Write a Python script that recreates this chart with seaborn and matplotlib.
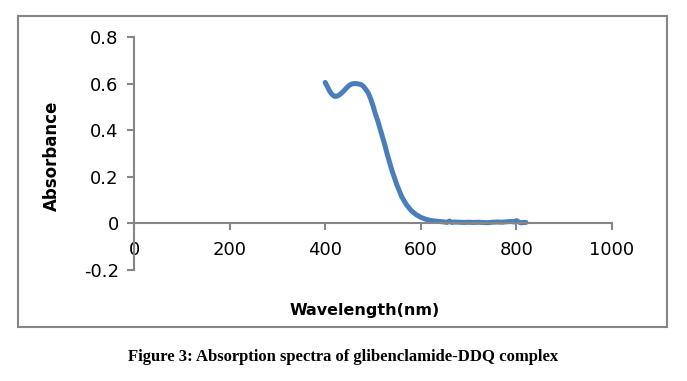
import matplotlib
matplotlib.use("Agg")
import matplotlib.pyplot as plt
import matplotlib.patches as mpatches
import pandas as pd
import seaborn as sns

# Spectrum
wavelength = [400, 405, 410, 415, 420, 425, 430, 435, 440, 445, 450, 455, 460, 465, 470,
              475, 480, 485, 490, 495, 500, 505, 510, 515, 520, 525, 530, 540, 550, 560,
              570, 580, 590, 600, 610, 620, 630, 640, 650, 655, 660, 665, 670, 680, 690,
              700, 710, 720, 730, 740, 750, 760, 770, 780, 790, 795, 800, 805, 810, 815, 820]
absorbance = [0.605, 0.585, 0.565, 0.552, 0.545, 0.546, 0.552, 0.561, 0.571, 0.582, 0.592,
              0.598, 0.600, 0.600, 0.598, 0.596, 0.588, 0.575, 0.560, 0.535, 0.505, 0.470,
              0.440, 0.405, 0.370, 0.335, 0.295, 0.225, 0.165, 0.115, 0.080, 0.055, 0.038,
              0.026, 0.018, 0.013, 0.010, 0.008, 0.006, 0.004, 0.010, 0.004, 0.006, 0.005,
              0.004, 0.005, 0.004, 0.005, 0.004, 0.003, 0.005, 0.006, 0.005, 0.007, 0.008,
              0.006, 0.012, 0.006, 0.002, 0.004, 0.004]
x_ticks = [0, 200, 400, 600, 800, 1000]
y_ticks = [-0.2, 0, 0.2, 0.4, 0.6, 0.8]
y_tick_labels = ["-0.2", "0", "0.2", "0.4", "0.6", "0.8"]

frame = pd.DataFrame({"Wavelength": wavelength, "Absorbance": absorbance})

sns.set_style("white")
plt.rcParams["font.family"] = ["DejaVu Sans"]

fig = plt.figure(figsize=(6.87, 3.81), dpi=100)
ax = fig.add_axes([134 / 687, 1 - 270 / 381, (612 - 134) / 687, (270 - 37) / 381])

sns.lineplot(data=frame, x="Wavelength", y="Absorbance", ax=ax,
             color="#4a7ebb", linewidth=3.6, solid_capstyle="round")

ax.set_xlim(0, 1000)
ax.set_ylim(-0.2, 0.8)
ax.set_xticks(x_ticks)
ax.set_yticks(y_ticks)
ax.set_yticklabels(y_tick_labels)
ax.spines["bottom"].set_position(("data", 0))
for side in ("top", "right"):
    ax.spines[side].set_visible(False)
for side in ("left", "bottom"):
    ax.spines[side].set_color("#868686")
    ax.spines[side].set_linewidth(1.5)
ax.tick_params(axis="both", which="major", direction="out", length=5, width=1.5,
               color="#868686", labelcolor="black", labelsize=13, left=True, bottom=True)
ax.tick_params(axis="x", pad=8)
ax.tick_params(axis="y", pad=6)
ax.set_xlabel("")
ax.set_ylabel("")
ax.patch.set_alpha(0)

fig.text(365 / 687, 1 - 310 / 381, "Wavelength(nm)",
         ha="center", va="center", fontsize=11.5, fontweight="bold", color="black")
fig.text(52 / 687, 1 - 156 / 381, "Absorbance", rotation=90,
         ha="center", va="center", fontsize=12, fontweight="bold", color="black")

fig.patches.append(mpatches.Rectangle((18 / 687, 1 - 327 / 381), (667 - 18) / 687,
                                      (327 - 16) / 381, transform=fig.transFigure,
                                      fill=False, edgecolor="#868686", linewidth=1.5))

fig.text(0.5, 1 - 357 / 381, "Figure 3: Absorption spectra of glibenclamide-DDQ complex",
         ha="center", va="center", fontsize=12, fontweight="bold", color="black",
         family=["Liberation Serif", "DejaVu Serif"])

fig.savefig("out.png", dpi=100)
plt.close(fig)
